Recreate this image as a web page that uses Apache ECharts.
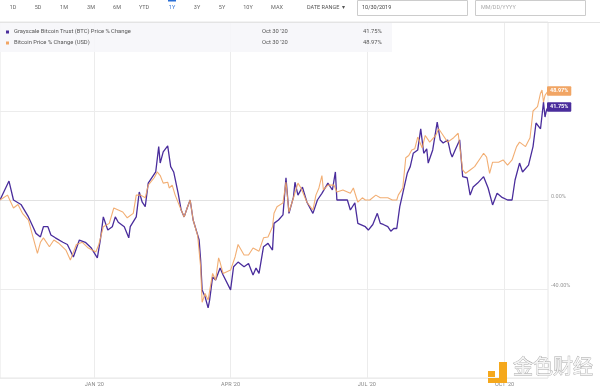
<!DOCTYPE html>
<html><head><meta charset="utf-8">
<script src="https://cdn.jsdelivr.net/npm/echarts@6/dist/echarts.min.js"></script>
<style>html,body{margin:0;padding:0;background:#fff}#c{width:600px;height:390px}</style>
</head><body><div id="c"></div>
<script>
// ---- data ----
const tickDates = ['2020-01-01','2020-04-01','2020-07-01','2020-10-01'];
const tickLabels = ["JAN '20","APR '20","JUL '20","OCT '20"];
const yTicks = [-40, 0, 40];
const rangeStart = '2019-10-30', rangeEnd = '2020-10-30';

const gbtcName = 'Grayscale Bitcoin Trust (BTC) Price % Change';
const gbtcDates = ['2019-10-30','2019-11-05','2019-11-08','2019-11-13','2019-11-18','2019-11-21','2019-11-23','2019-11-26','2019-11-28','2019-12-01','2019-12-03','2019-12-06','2019-12-11','2019-12-14','2019-12-18','2019-12-22','2019-12-26','2019-12-30','2020-01-03','2020-01-05','2020-01-07','2020-01-10','2020-01-13','2020-01-15','2020-01-17','2020-01-21','2020-01-24','2020-01-25','2020-01-29','2020-01-31','2020-02-02','2020-02-04','2020-02-06','2020-02-11','2020-02-13','2020-02-14','2020-02-16','2020-02-19','2020-02-21','2020-02-23','2020-02-26','2020-02-28','2020-03-01','2020-03-03','2020-03-05','2020-03-07','2020-03-10','2020-03-11','2020-03-12','2020-03-13','2020-03-15','2020-03-17','2020-03-18','2020-03-20','2020-03-22','2020-03-25','2020-03-27','2020-04-01','2020-04-03','2020-04-06','2020-04-10','2020-04-13','2020-04-16','2020-04-18','2020-04-20','2020-04-23','2020-04-26','2020-04-29','2020-04-30','2020-05-03','2020-05-06','2020-05-08','2020-05-10','2020-05-13','2020-05-14','2020-05-16','2020-05-19','2020-05-22','2020-05-26','2020-05-29','2020-06-01','2020-06-05','2020-06-08','2020-06-10','2020-06-11','2020-06-18','2020-06-20','2020-06-23','2020-06-25','2020-06-30','2020-07-02','2020-07-05','2020-07-08','2020-07-10','2020-07-12','2020-07-15','2020-07-17','2020-07-19','2020-07-21','2020-07-23','2020-07-25','2020-07-28','2020-07-30','2020-08-01','2020-08-04','2020-08-06','2020-08-08','2020-08-10','2020-08-11','2020-08-14','2020-08-17','2020-08-19','2020-08-21','2020-08-24','2020-08-26','2020-08-27','2020-08-29','2020-09-01','2020-09-03','2020-09-06','2020-09-08','2020-09-10','2020-09-13','2020-09-17','2020-09-20','2020-09-23','2020-09-26','2020-09-29','2020-10-03','2020-10-06','2020-10-08','2020-10-11','2020-10-13','2020-10-17','2020-10-20','2020-10-22','2020-10-25','2020-10-26','2020-10-27','2020-10-28','2020-10-29','2020-10-30'];
const gbtcValues = [0,8.5,0,-2,-7.6,-12,-15,-16.6,-12,-12,-15.7,-17,-19,-20,-25.6,-18,-19,-21.6,-26,-18,-7.6,-13.5,-12,-7.6,-10,-12,-17,-12,-7.6,3.6,-1,-3,7.6,12.6,24,16.6,21.6,24.3,15,12.6,3,-4.5,-7.6,-3.6,0,-9,-15.7,-18,-27,-40.4,-43.6,-48.5,-45,-34.6,-36,-30.6,-33.7,-40.4,-30,-27.9,-30,-28.5,-33.7,-30.6,-33,-21,-19.5,-22.5,-10.5,-9,-6.7,10,-6,1.3,8,2.2,5.8,-1,-6,0,3,7.6,4.5,12.6,0,0,-4.5,-1.3,-10.5,-12,-13.5,-11,-6,-10.5,-11,-12,-14,-12.8,-12.8,-3,3,12,15,21,22.5,32,21,23,16.6,22.5,35,27,25.6,27,21,19.3,22.5,27,10.5,10,2.2,5.8,7.6,10.5,5.4,-2.2,3,1.3,0,0,9,16.6,12.6,15.7,24,34.6,32,32,44,37.3,40.4,41.75];

const btcName = 'Bitcoin Price % Change (USD)';
const btcDates = ['2019-10-30','2019-11-04','2019-11-08','2019-11-11','2019-11-14','2019-11-18','2019-11-21','2019-11-24','2019-11-26','2019-11-28','2019-12-02','2019-12-05','2019-12-08','2019-12-13','2019-12-16','2019-12-20','2019-12-24','2019-12-28','2020-01-02','2020-01-04','2020-01-07','2020-01-11','2020-01-14','2020-01-17','2020-01-20','2020-01-23','2020-01-27','2020-01-29','2020-02-01','2020-02-04','2020-02-06','2020-02-10','2020-02-12','2020-02-14','2020-02-16','2020-02-19','2020-02-20','2020-02-22','2020-02-24','2020-02-28','2020-03-01','2020-03-03','2020-03-05','2020-03-07','2020-03-10','2020-03-12','2020-03-13','2020-03-14','2020-03-15','2020-03-17','2020-03-20','2020-03-22','2020-03-24','2020-03-25','2020-03-27','2020-04-01','2020-04-04','2020-04-06','2020-04-10','2020-04-13','2020-04-16','2020-04-20','2020-04-23','2020-04-26','2020-04-29','2020-04-30','2020-05-02','2020-05-06','2020-05-08','2020-05-10','2020-05-13','2020-05-16','2020-05-18','2020-05-22','2020-05-26','2020-05-28','2020-05-30','2020-06-01','2020-06-02','2020-06-05','2020-06-09','2020-06-11','2020-06-15','2020-06-20','2020-06-22','2020-06-25','2020-06-28','2020-06-30','2020-07-03','2020-07-07','2020-07-10','2020-07-15','2020-07-18','2020-07-21','2020-07-22','2020-07-25','2020-07-27','2020-07-29','2020-07-31','2020-08-02','2020-08-04','2020-08-07','2020-08-09','2020-08-12','2020-08-16','2020-08-18','2020-08-20','2020-08-24','2020-08-28','2020-08-31','2020-09-03','2020-09-05','2020-09-08','2020-09-11','2020-09-15','2020-09-17','2020-09-19','2020-09-21','2020-09-23','2020-09-27','2020-09-30','2020-10-03','2020-10-06','2020-10-09','2020-10-11','2020-10-15','2020-10-18','2020-10-20','2020-10-23','2020-10-25','2020-10-26','2020-10-27','2020-10-28','2020-10-30'];
const btcValues = [0,2.2,-3.6,-2,-6,-9,-16.6,-24,-19,-17,-21,-18,-19.3,-22.5,-27,-20,-19,-21.6,-23.4,-20,-12,-10.5,-3.6,-4.5,-5.4,-8,-6,2.2,2.2,1,6.7,10,12.6,11,7.6,8,5.4,6.7,2.2,-4.5,-7.6,-3.6,0,-9,-16,-30,-46,-44,-42,-45,-33,-36,-26,-28,-33,-31.5,-25.6,-20,-24.7,-24.7,-21.6,-23,-17,-16.6,-12,-6,-3,-1.3,8,-5.4,1,7.6,5.4,-1,-4.5,2.2,5.4,11,4.5,6.7,6.7,3.6,4.5,3,5.4,-1,1,0,0,2.2,1,1,0,0,2.2,5.4,19,20,22.5,23,28.3,23.4,29,26,29,32,30,26,28,30,13.5,12,13.5,15,19,21,19.3,12,17,17,18,15.7,18,24,26,24,28,40,42,48,49.4,44,47,48.97];

const legendDate = "Oct 30 '20";
const rangeButtons = ['1D','5D','1M','3M','6M','YTD','1Y','3Y','5Y','10Y','MAX'];
const startDate = '10/30/2019';

// ---- chart ----
const PURPLE = '#4a2d9c', ORANGE = '#f1a564';
const FONT = 'Roboto, "Noto Sans", sans-serif';
const t = s => { const p = s.split('-').map(Number); return Date.UTC(p[0], p[1]-1, p[2]); };
const tickTimes = tickDates.map(t);
const pairs = (d, v) => d.map((s, i) => [t(s), v[i]]);

const btnX = [13,38,64,91,117,144,172,197,222,248,277];
const graphics = [];
rangeButtons.forEach((b, i) => graphics.push({type:'text', x: btnX[i], y: 5, z: 50,
  style:{text:b, fill: b==='1Y' ? '#2a6fd6' : '#666', font:'5.5px '+FONT, textAlign:'center'}}));
graphics.push({type:'rect', shape:{x:168,y:0,width:8,height:1.5}, style:{fill:'#2a6fd6'}, z:50});
graphics.push({type:'text', x:307, y:5, z:50, style:{text:'DATE RANGE  \u25BE', fill:'#555', font:'5.5px '+FONT}});
graphics.push({type:'rect', shape:{x:357.5,y:0.5,width:110,height:15}, style:{fill:'#fff', stroke:'#ccc', lineWidth:1}, z:50});
graphics.push({type:'text', x:362, y:5, z:51, style:{text:startDate, fill:'#444', font:'5.5px '+FONT}});
graphics.push({type:'rect', shape:{x:475.5,y:0.5,width:110,height:15}, style:{fill:'#fff', stroke:'#ccc', lineWidth:1}, z:50});
graphics.push({type:'text', x:481, y:5, z:51, style:{text:'MM/DD/YYYY', fill:'#aaa', font:'5.5px '+FONT}});
graphics.push({type:'rect', shape:{x:0,y:22,width:392,height:30}, style:{fill:'rgba(246,246,249,0.9)'}, z:50});
graphics.push({type:'line', shape:{x1:0,y1:22.5,x2:600,y2:22.5}, style:{stroke:'#e4e4e4', lineWidth:1}, z:50});
[[gbtcName, PURPLE, gbtcValues[gbtcValues.length-1], 32],[btcName, ORANGE, btcValues[btcValues.length-1], 43]].forEach(r => {
  graphics.push({type:'rect', shape:{x:6,y:r[3]-1.5,width:3,height:3}, style:{fill:r[1]}, z:51});
  graphics.push({type:'text', x:14, y:r[3]-3.5, z:51, style:{text:r[0], fill:'#555', font:'5.8px '+FONT}});
  graphics.push({type:'text', x:262, y:r[3]-3.5, z:51, style:{text:legendDate, fill:'#555', font:'5.8px '+FONT}});
  graphics.push({type:'text', x:363, y:r[3]-3.5, z:51, style:{text:r[2].toFixed(2)+'%', fill:'#555', font:'5.8px '+FONT}});
});
graphics.push({type:'rect', shape:{x:488,y:371,width:7,height:6}, style:{fill:'#f5a81c'}, z:60});
graphics.push({type:'rect', shape:{x:499,y:362,width:8,height:21}, style:{fill:'#f5a81c'}, z:60});
graphics.push({type:'rect', shape:{x:488,y:378,width:19,height:5}, style:{fill:'#f5a81c'}, z:60});
graphics.push({type:'text', x:513, y:356, z:60, style:{text:'金色财经', fill:'#f4f4f4', stroke:'#a8a8a8', lineWidth:0.8, font:'20px "Noto Sans CJK SC"'}});

const chart = echarts.init(document.getElementById('c'), null, {renderer:'canvas'});
chart.setOption({
  animation: false,
  backgroundColor: '#fff',
  textStyle: {fontFamily: FONT},
  grid: {left: 0, right: 52, top: 22, bottom: 12, show: true, borderColor: '#e6e6e6', borderWidth: 1},
  xAxis: {
    type: 'value', min: t(rangeStart), max: t(rangeEnd),
    axisLine: {show: true, lineStyle: {color: '#e2e2e2'}},
    axisTick: {show: false, customValues: tickTimes},
    splitLine: {show: true, lineStyle: {color: '#ececec', width: 1}},
    axisLabel: {customValues: tickTimes, fontSize: 5.5, color: '#888', margin: 4,
      formatter: v => { const i = tickTimes.indexOf(v); return i >= 0 ? tickLabels[i] : ''; }}
  },
  yAxis: {
    type: 'value', position: 'right', min: -80, max: 80, interval: 40,
    axisLine: {show: false}, axisTick: {show: false},
    splitLine: {lineStyle: {color: '#ececec', width: 1}},
    axisLabel: {fontSize: 5.5, color: '#999', margin: 3, verticalAlign: 'bottom',
      formatter: v => yTicks.indexOf(v) >= 0 ? v.toFixed(2) + '%' : ''}
  },
  series: [
    {name: gbtcName, type: 'line', showSymbol: false, symbol: 'none', z: 3,
     data: pairs(gbtcDates, gbtcValues), lineStyle: {color: PURPLE, width: 1.3},
     endLabel: {show: true, distance: -1, formatter: p => p.value[1].toFixed(2) + '%',
       backgroundColor: PURPLE, color: '#fff', fontSize: 5.5, fontWeight: 'bold', padding: [2, 3, 1.5, 3], borderRadius: 1}},
    {name: btcName, type: 'line', showSymbol: false, symbol: 'none', z: 4,
     data: pairs(btcDates, btcValues), lineStyle: {color: ORANGE, width: 1.1, opacity: 0.9},
     endLabel: {show: true, distance: -1, formatter: p => p.value[1].toFixed(2) + '%',
       backgroundColor: ORANGE, color: '#fff', fontSize: 5.5, fontWeight: 'bold', padding: [2, 3, 1.5, 3], borderRadius: 1}}
  ],
  graphic: graphics
});
</script></body></html>
